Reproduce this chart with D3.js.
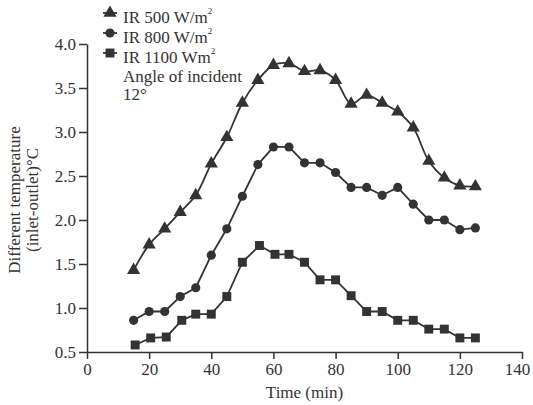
<!DOCTYPE html>
<html>
<head>
<meta charset="utf-8">
<script src="https://cdn.jsdelivr.net/npm/d3@7"></script>
<style>
body { margin: 0; background: #fff; }
text { font-family: "Liberation Serif", "Times New Roman", serif; fill: #333; }
</style>
</head>
<body>
<div id="chart"></div>
<script>
// data
var time = [15, 20, 25, 30, 35, 40, 45, 50, 55, 60, 65, 70, 75, 80, 85, 90, 95, 100, 105, 110, 115, 120, 125]
var time1100 = [15.5, 20.5, 25.5, 30.5, 35, 40, 45, 50, 55.5, 60.5, 65, 70, 75, 80, 85, 90, 95, 100, 105, 110, 115, 120, 125]
var ir500 = [1.43, 1.72, 1.90, 2.09, 2.28, 2.64, 2.94, 3.33, 3.59, 3.76, 3.78, 3.69, 3.70, 3.59, 3.32, 3.42, 3.33, 3.23, 3.05, 2.67, 2.48, 2.39, 2.38]
var ir800 = [0.86, 0.96, 0.96, 1.13, 1.23, 1.60, 1.90, 2.27, 2.63, 2.83, 2.83, 2.65, 2.65, 2.54, 2.37, 2.37, 2.28, 2.37, 2.18, 2.00, 2.00, 1.89, 1.91]
var ir1100 = [0.58, 0.66, 0.67, 0.86, 0.93, 0.93, 1.13, 1.52, 1.71, 1.61, 1.61, 1.52, 1.32, 1.32, 1.14, 0.96, 0.96, 0.86, 0.86, 0.76, 0.76, 0.66, 0.66]
var xTicks = [0, 20, 40, 60, 80, 100, 120, 140]
var yTicks = [0.5, 1.0, 1.5, 2.0, 2.5, 3.0, 3.5, 4.0]

var ink = "#333"
var margin = {top: 44, right: 11, bottom: 53, left: 87},
	width = 533 - margin.left - margin.right,
	height = 405 - margin.top - margin.bottom

var svg = d3.select("#chart")
	.append("svg")
		.attr("width", 533)
		.attr("height", 405)

var g = svg.append("g")
	.attr("transform", `translate(${margin.left},${margin.top})`)

var x = d3.scaleLinear().domain([0, 140]).range([0, width])
var y = d3.scaleLinear().domain([0.5, 4.0]).range([height, 0])

// x axis
var xAxis = g.append("g")
	.attr("transform", `translate(0,${height})`)
	.call(d3.axisBottom(x).tickValues(xTicks).tickSize(7).tickSizeOuter(0).tickPadding(4))
// y axis
var yAxis = g.append("g")
	.call(d3.axisLeft(y).tickValues(yTicks).tickFormat(d3.format(".1f")).tickSize(8).tickSizeOuter(0).tickPadding(3))

;[xAxis, yAxis].forEach(function(a) {
	a.selectAll("path, line").attr("stroke", ink).attr("stroke-width", 1.5)
	a.selectAll("text").attr("font-size", 17).attr("font-family", "Liberation Serif").attr("fill", ink)
})
// last label sits against the right edge
xAxis.selectAll(".tick text").filter(d => d == 140).attr("dx", -5)

// axis titles
g.append("text")
	.attr("x", width / 2)
	.attr("y", height + 46)
	.attr("text-anchor", "middle")
	.attr("font-size", 17)
	.text("Time (min)")

var yTitle = svg.append("text")
	.attr("transform", "translate(20," + (margin.top + height / 2 + 2) + ") rotate(-90)")
	.attr("text-anchor", "middle")
	.attr("font-size", 17)
yTitle.append("tspan").attr("x", 0).attr("y", 0).text("Different temperature")
yTitle.append("tspan").attr("x", 0).attr("y", 18).text("(inlet-outlet)°C")

// series
var series = [
	{name: "IR 500 W/m", xs: time, ys: ir500, shape: d3.symbolTriangle, size: 75, curve: d3.curveCatmullRom.alpha(0.5)},
	{name: "IR 800 W/m", xs: time, ys: ir800, shape: d3.symbolCircle, size: 66, curve: d3.curveLinear},
	{name: "IR 1100 Wm", xs: time1100, ys: ir1100, shape: d3.symbolSquare, size: 80, curve: d3.curveLinear}
]

series.forEach(function(s) {
	var pts = s.xs.map(function(t, i) { return {t: t, v: s.ys[i]} })
	var line = d3.line()
		.x(d => x(d.t))
		.y(d => y(d.v))
		.curve(s.curve)
	g.append("path")
		.datum(pts)
		.attr("fill", "none")
		.attr("stroke", ink)
		.attr("stroke-width", 1.8)
		.attr("d", line)
	g.selectAll(null)
		.data(pts)
		.enter()
		.append("path")
			.attr("d", d3.symbol().type(s.shape).size(s.size))
			.attr("transform", d => `translate(${x(d.t)},${y(d.v)})`)
			.attr("fill", ink)
})

// legend
var legend = svg.append("g").attr("transform", "translate(110,0)")
series.forEach(function(s, i) {
	var yy = 13 + i * 20
	legend.append("line")
		.attr("x1", -7).attr("x2", 7)
		.attr("y1", yy).attr("y2", yy)
		.attr("stroke", ink).attr("stroke-width", 1.8)
	legend.append("path")
		.attr("d", d3.symbol().type(s.shape).size(s.size))
		.attr("transform", `translate(0,${yy})`)
		.attr("fill", ink)
	var t = legend.append("text")
		.attr("x", 13)
		.attr("y", yy + 10)
		.attr("font-size", 17)
	t.append("tspan").text(s.name)
	t.append("tspan").attr("font-size", 9).attr("dy", -9).text("2")
})
legend.append("text").attr("x", 13).attr("y", 82).attr("font-size", 17).text("Angle of incident")
legend.append("text").attr("x", 13).attr("y", 100).attr("font-size", 17).text("12°")
</script>
</body>
</html>
